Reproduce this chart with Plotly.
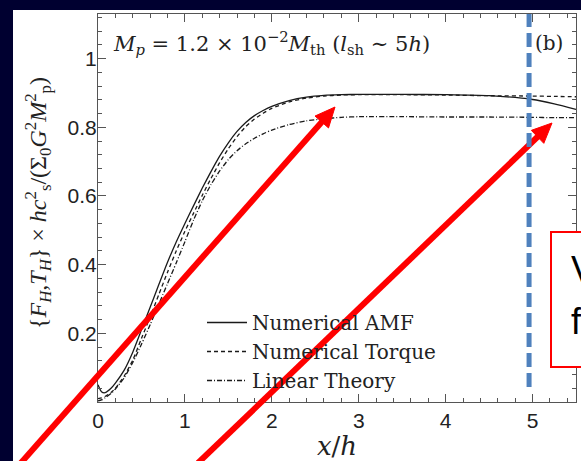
import math
import plotly.graph_objects as go

# ---- data ----
x_h = [0, 0.04, 0.08, 0.15, 0.2, 0.3, 0.4, 0.5, 0.6, 0.7, 0.8, 0.9, 1.0, 1.1, 1.2, 1.3, 1.4,
       1.5, 1.6, 1.7, 1.8, 1.9, 2.0, 2.2, 2.4, 2.6, 2.8, 3.0, 3.5, 4.0, 4.5, 5.0, 5.25, 5.5]
amf = [0.05, 0.03, 0.027, 0.04, 0.055, 0.092, 0.145, 0.21, 0.276, 0.342, 0.407, 0.466, 0.52,
       0.572, 0.623, 0.671, 0.716, 0.755, 0.788, 0.814, 0.834, 0.849, 0.861, 0.878, 0.888, 0.893,
       0.895, 0.896, 0.896, 0.895, 0.892, 0.881, 0.868, 0.852]
torque = [0.01, 0.012, 0.016, 0.028, 0.04, 0.075, 0.122, 0.185, 0.248, 0.313, 0.378, 0.44, 0.497,
          0.55, 0.602, 0.651, 0.697, 0.738, 0.773, 0.802, 0.824, 0.841, 0.855, 0.874, 0.885, 0.891,
          0.894, 0.895, 0.895, 0.894, 0.892, 0.891, 0.89, 0.889]
linear = [0.003, 0.006, 0.012, 0.025, 0.038, 0.07, 0.115, 0.168, 0.225, 0.285, 0.345, 0.405, 0.467,
          0.53, 0.586, 0.633, 0.673, 0.706, 0.732, 0.752, 0.768, 0.781, 0.792, 0.808, 0.819,
          0.825, 0.829, 0.831, 0.831, 0.83, 0.83, 0.829, 0.828, 0.828]
series_names = ["Numerical AMF", "Numerical Torque", "Linear Theory"]
y_tickvals = [0.2, 0.4, 0.6, 0.8, 1.0]
y_ticktext = ["0.2", "0.4", "0.6", "0.8", "1"]
x_marker = 4.96  # blue dashed marker position (x/h)

W, H = 581, 461
ML, MR, MT, MB = 98, 5, 14, 59
PW, PH = W - ML - MR, H - MT - MB


def px(X, Y):
    """pixel -> paper coords"""
    return (X - ML) / PW, (H - MB - Y) / PH


fig = go.Figure()
dashes = ["solid", "4px,3px", "5px,2px,1px,2px"]
for i, (name, ys, dsh) in enumerate(zip(series_names, [amf, torque, linear], dashes)):
    fig.add_trace(go.Scatter(x=x_h, y=ys, mode="lines", name=name,
                             line=dict(color="#1a1a1a", width=1.3, dash=dsh, shape="spline",
                                       smoothing=0.6)))

shapes = []
# white slide area
x0, y0 = px(13, 10)
x1, y1 = px(W + 20, H + 20)
shapes.append(dict(type="rect", xref="paper", yref="paper", x0=x0, y0=y1, x1=x1, y1=y0,
                   fillcolor="white", line=dict(width=0), layer="below"))


def arrow(sx, sy, tx, ty):
    dx, dy = tx - sx, ty - sy
    L = math.hypot(dx, dy)
    ux, uy = dx / L, dy / L
    hl, hw = 20, 9
    ex, ey = tx - ux * (hl - 3), ty - uy * (hl - 3)
    a = px(sx, sy); b = px(ex, ey)
    out = [dict(type="line", xref="paper", yref="paper", x0=a[0], y0=a[1], x1=b[0], y1=b[1],
                line=dict(color="#ff0000", width=6), layer="above")]
    bx, by = tx - ux * hl, ty - uy * hl
    p1 = px(tx, ty); p2 = px(bx - uy * hw, by + ux * hw); p3 = px(bx + uy * hw, by - ux * hw)
    path = f"M{p1[0]},{p1[1]} L{p2[0]},{p2[1]} L{p3[0]},{p3[1]} Z"
    out.append(dict(type="path", xref="paper", yref="paper", path=path,
                    fillcolor="#ff0000", line=dict(color="#ff0000", width=1), layer="above"))
    return out


shapes += arrow(20, 464, 335, 107)
shapes += arrow(198, 463, 552, 123)

# blue dashed marker
shapes.append(dict(type="line", xref="x", yref="paper", x0=x_marker, x1=x_marker,
                   y0=px(0, 387)[1], y1=px(0, 14)[1],
                   line=dict(color="#4F81BD", width=5, dash="14px,6px"), layer="above"))
# red text box
bx0, by0 = px(551, 232)
bx1, by1 = px(W + 20, 367)
shapes.append(dict(type="rect", xref="paper", yref="paper", x0=bx0, y0=by1, x1=bx1, y1=by0,
                   fillcolor="white", line=dict(color="#ff0000", width=2), layer="above"))

serif = "DejaVu Serif"
ytitle = ("{<i>F<sub>H</sub></i>,<i>T<sub>H</sub></i>} × <i>hc</i><sup>2</sup><sub>s</sub>"
          "/(Σ<sub>0</sub><i>G</i><sup>2</sup><i>M</i><sup>2</sup><sub>p</sub>)")
annotations = [
    dict(xref="paper", yref="paper", x=px(111, 0)[0], y=px(0, 43)[1], xanchor="left", yanchor="middle",
         showarrow=False,
         text="<i>M<sub>p</sub></i> = 1.2 × 10<sup>−2</sup><i>M</i><sub>th</sub> (<i>l</i><sub>sh</sub> ∼ 5<i>h</i>)",
         font=dict(family=serif, size=21, color="#222")),
    dict(xref="paper", yref="paper", x=px(533, 0)[0], y=px(0, 43)[1], xanchor="left", yanchor="middle",
         showarrow=False, text="(b)", font=dict(family=serif, size=20, color="#222")),
    dict(xref="paper", yref="paper", x=px(38, 0)[0], y=px(0, 203)[1], xanchor="center", yanchor="middle",
         showarrow=False, textangle=-90, text=ytitle,
         font=dict(family="Liberation Serif", size=24, color="#222")),
    dict(xref="paper", yref="paper", x=px(569, 0)[0], y=px(0, 269)[1], xanchor="left", yanchor="middle",
         showarrow=False, text="V", font=dict(family="Liberation Sans", size=36, color="black")),
    dict(xref="paper", yref="paper", x=px(569, 0)[0], y=px(0, 321)[1], xanchor="left", yanchor="middle",
         showarrow=False, text="f", font=dict(family="Liberation Sans", size=36, color="black")),
]

axis_common = dict(showline=True, linecolor="#555", linewidth=1.2, mirror="ticks", ticks="inside",
                   ticklen=8, tickwidth=1.1, tickcolor="#555", showgrid=False, zeroline=False,
                   tickfont=dict(family="Liberation Sans", size=21, color="#222"))

fig.update_layout(
    width=W, height=H, margin=dict(l=ML, r=MR, t=MT, b=MB),
    paper_bgcolor="#000030", plot_bgcolor="rgba(0,0,0,0)",
    showlegend=True,
    legend=dict(x=px(202, 0)[0], y=px(0, 303)[1], xanchor="left", yanchor="top",
                bgcolor="rgba(0,0,0,0)", font=dict(family=serif, size=20, color="#222"),
                tracegroupgap=0, itemwidth=40),
    xaxis=dict(range=[0, 5.5], dtick=1, tick0=0,
               minor=dict(dtick=0.2, tick0=0, ticks="inside", ticklen=4, tickcolor="#555"),
               title=dict(text="<i>x</i>/<i>h</i>", font=dict(family=serif, size=26, color="#222"),
                          standoff=3),
               **axis_common),
    yaxis=dict(range=[0, 1.13], tickmode="array", tickvals=y_tickvals, ticktext=y_ticktext,
               ticklabelstandoff=-4,
               minor=dict(dtick=0.04, tick0=0, ticks="inside", ticklen=4, tickcolor="#555"),
               **axis_common),
    shapes=shapes, annotations=annotations,
)

fig.write_html("out.html")
